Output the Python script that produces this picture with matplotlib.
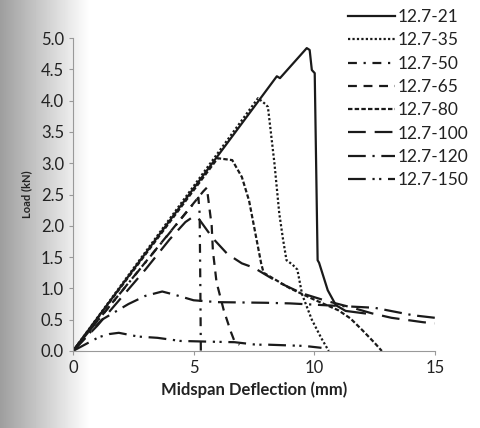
import numpy as np
import matplotlib
matplotlib.use("Agg")
import matplotlib.pyplot as plt

plt.rcParams['font.family'] = ['Lato', 'DejaVu Sans']

# load-deflection curves
x21 = [0, 8.45, 8.58, 9.69, 9.81, 9.9, 10.02, 10.14, 10.2, 10.56, 10.9, 11.3, 12.1]
y21 = [0, 4.39, 4.36, 4.84, 4.81, 4.49, 4.44, 1.45, 1.41, 0.97, 0.73, 0.64, 0.6]
x35 = [0, 7.67, 7.96, 8.08, 8.35, 8.55, 8.7, 8.85, 9.1, 9.3, 9.5, 9.9, 10.3, 10.6]
y35 = [0, 4.04, 3.95, 3.9, 3.0, 2.2, 1.8, 1.45, 1.38, 1.3, 0.9, 0.5, 0.2, 0.0]
x50 = [0, 5.2, 5.25, 5.28, 5.3]
y50 = [0, 2.45, 2.2, 1.0, 0.0]
x65 = [0, 5.4, 5.55, 5.65, 5.75, 5.8, 5.95, 6.25, 6.55, 6.7, 6.9]
y65 = [0, 2.55, 2.61, 2.3, 2.0, 1.6, 1.1, 0.65, 0.3, 0.15, 0.1]
x80 = [0, 6.0, 6.6, 7.0, 7.3, 7.55, 7.8, 7.9, 9.0, 10.0, 11.0, 11.5, 12.0, 12.5, 12.8]
y80 = [0, 3.08, 3.05, 2.78, 2.4, 1.9, 1.4, 1.25, 1.0, 0.82, 0.65, 0.52, 0.33, 0.13, 0.0]
x100 = [0, 1, 2, 3, 4, 4.66, 5.0, 5.2, 5.8, 6.4, 7.0, 7.5, 8.5, 9.5, 10.5, 11.5, 12.4, 13.2, 14.5, 15]
y100 = [0, 0.4, 0.85, 1.3, 1.78, 2.06, 2.15, 2.12, 1.8, 1.55, 1.4, 1.33, 1.1, 0.92, 0.8, 0.7, 0.6, 0.53, 0.46, 0.44]
x120 = [0, 1.2, 2.3, 3.0, 3.7, 4.2, 5.0, 6.0, 8.0, 9.0, 10.5, 12.0, 12.5, 13.3, 14.1, 15]
y120 = [0, 0.5, 0.75, 0.88, 0.95, 0.9, 0.81, 0.78, 0.77, 0.76, 0.73, 0.7, 0.69, 0.63, 0.57, 0.53]
x150 = [0, 1.07, 1.5, 1.9, 2.7, 3.5, 4.45, 5.5, 6.7, 7.6, 8.1, 9.6, 10.3]
y150 = [0, 0.22, 0.27, 0.29, 0.23, 0.21, 0.16, 0.15, 0.14, 0.1, 0.1, 0.08, 0.05]

labels = ['12.7-21', '12.7-35', '12.7-50', '12.7-65', '12.7-80',
          '12.7-100', '12.7-120', '12.7-150']
xs = [x21, x35, x50, x65, x80, x100, x120, x150]
ys = [y21, y35, y50, y65, y80, y100, y120, y150]
styles = ['-', (0, (1, 1)), (0, (4, 3, 1, 3)), (0, (4, 3)), (0, (2, 1)),
          (0, (8, 4)), (0, (8, 3, 1, 3)), (0, (8, 3, 1, 2, 1, 3))]

fig = plt.figure(figsize=(4.8, 4.28), dpi=100)

# scanned page shadow on the left
bg = fig.add_axes([0, 0, 1, 1], zorder=-1)
grad = np.ones((2, 480))
grad[:, :90] = np.linspace(0.62, 1.0, 90)
bg.imshow(grad, cmap='gray', vmin=0, vmax=1, aspect='auto', extent=[0, 1, 0, 1])
bg.axis('off')

ax = fig.add_axes([0.152, 0.18, 0.754, 0.731])
ax.patch.set_alpha(0)
for xv, yv, ls, lab in zip(xs, ys, styles, labels):
    ax.plot(xv, yv, color='#1a1a1a', lw=1.6, linestyle=ls, label=lab)

ax.set_xlim(0, 15)
ax.set_ylim(0, 5)
ax.set_xticks([0, 5, 10, 15])
ax.set_yticks(np.arange(0, 5.01, 0.5))
ax.set_yticklabels(['%.1f' % v for v in np.arange(0, 5.01, 0.5)])
ax.tick_params(labelsize=12, colors='#999999', length=3, labelcolor='#222222')
for s in ['top', 'right']:
    ax.spines[s].set_visible(False)
for s in ['left', 'bottom']:
    ax.spines[s].set_color('#999999')
ax.set_xlabel('Midspan Deflection (mm)', fontsize=12, fontweight='bold', color='#222222')
ax.set_ylabel('Load (kN)', fontsize=8, fontweight='bold', color='#222222', labelpad=6)

fig.legend(loc='upper left', bbox_to_anchor=(0.71, 0.995), frameon=False,
           fontsize=12.5, handlelength=2.7, handletextpad=0.2, labelspacing=0.42,
           borderaxespad=0.2, borderpad=0.2, labelcolor='#222222')

fig.savefig('out.png', dpi=100)
